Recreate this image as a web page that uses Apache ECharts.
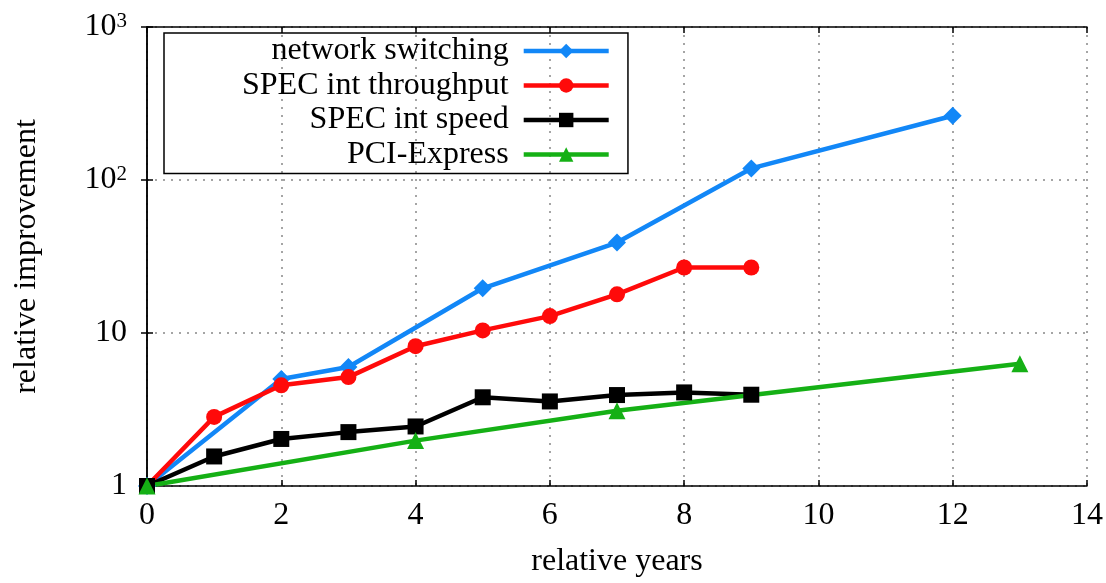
<!DOCTYPE html>
<html>
<head>
<meta charset="utf-8">
<script src="https://cdn.jsdelivr.net/npm/echarts@6/dist/echarts.min.js"></script>
<style>html,body{margin:0;padding:0;background:#fff}#c{width:1106px;height:583px}</style>
</head>
<body>
<div id="c"></div>
<script>
var seriesNames = ['network switching', 'SPEC int throughput', 'SPEC int speed', 'PCI-Express'];
var netX = [0, 2, 3, 5, 7, 9, 12];
var netY = [1, 5.0, 6.0, 19.6, 39, 119, 263];
var thrX = [0, 1, 2, 3, 4, 5, 6, 7, 8, 9];
var thrY = [1, 2.83, 4.55, 5.15, 8.2, 10.4, 12.9, 17.9, 26.8, 26.8];
var spdX = [0, 1, 2, 3, 4, 5, 6, 7, 8, 9];
var spdY = [1, 1.56, 2.03, 2.25, 2.45, 3.8, 3.57, 3.93, 4.09, 3.95];
var pciX = [0, 4, 7, 13];
var pciY = [1, 1.98, 3.1, 6.3];
var xTicks = [0, 2, 4, 6, 8, 10, 12, 14];
var yTicks = [1, 10, 100, 1000];

function pairs(xs, ys) { return xs.map(function (x, i) { return [x, ys[i]]; }); }

var FONT = 'Liberation Serif';
var chart = echarts.init(document.getElementById('c'));
function mkSeries(name, data, color, symbol, size) {
  return {
    name: name, type: 'line', data: data, clip: false,
    symbol: symbol, symbolSize: size, showSymbol: true,
    lineStyle: { color: color, width: 4.5 },
    itemStyle: { color: color },
    emphasis: { disabled: true },
    animation: false
  };
}
var axisLineStyle = { show: true, lineStyle: { color: '#000', width: 1.5 } };
var tickStyle = { show: true, inside: true, length: 6, lineStyle: { color: '#000', width: 1.5 } };
var option = {
  animation: false,
  textStyle: { fontFamily: FONT },
  grid: { left: 147, right: 18, top: 27, bottom: 86 },
  legend: {
    orient: 'vertical', left: 164, top: 33, align: 'right',
    itemWidth: 85, itemHeight: 18, itemGap: 2.5,
    padding: [2, 17, 3, 78],
    borderColor: '#000', borderWidth: 1.5,
    lineStyle: { width: 4.5 },
    textStyle: { fontFamily: FONT, fontSize: 32, color: '#000', lineHeight: 32, padding: [0, 10, 0, 0] },
    data: seriesNames
  },
  xAxis: [{
    type: 'value', min: xTicks[0], max: xTicks[xTicks.length - 1], interval: 2,
    name: 'relative years', nameLocation: 'middle', nameGap: 60,
    nameTextStyle: { fontFamily: FONT, fontSize: 32, color: '#000' },
    axisLine: axisLineStyle, axisTick: tickStyle,
    axisLabel: { fontFamily: FONT, fontSize: 32, color: '#000', margin: 14 },
    splitLine: { show: true, lineStyle: { color: '#888', type: [2, 6], width: 1.5 } }
  }, {
    type: 'value', position: 'top', min: xTicks[0], max: xTicks[xTicks.length - 1], interval: 2,
    axisLine: axisLineStyle, axisTick: tickStyle,
    axisLabel: { show: false }, splitLine: { show: false }
  }],
  yAxis: [{
    type: 'log', logBase: 10, min: yTicks[0], max: yTicks[yTicks.length - 1],
    name: 'relative improvement', nameLocation: 'middle', nameGap: 104, nameRotate: 90,
    nameTextStyle: { fontFamily: FONT, fontSize: 32, color: '#000' },
    axisLine: axisLineStyle, axisTick: tickStyle,
    axisLabel: {
      fontFamily: FONT, fontSize: 32, color: '#000', margin: 20,
      formatter: function (v) {
        if (v >= 100) return '10{sup|' + Math.round(Math.log10(v)) + '}';
        return String(Math.round(v));
      },
      rich: { sup: { fontFamily: FONT, fontSize: 21, color: '#000', verticalAlign: 'top', lineHeight: 32, padding: [0, 0, 14, 0] } }
    },
    splitLine: { show: true, lineStyle: { color: '#888', type: [2, 6], width: 1.5 } }
  }, {
    type: 'log', logBase: 10, position: 'right', min: yTicks[0], max: yTicks[yTicks.length - 1],
    axisLine: axisLineStyle, axisTick: tickStyle,
    axisLabel: { show: false }, splitLine: { show: false }
  }],
  series: [
    mkSeries(seriesNames[0], pairs(netX, netY), '#1287f7', 'diamond', 18),
    mkSeries(seriesNames[1], pairs(thrX, thrY), '#ff0a0a', 'circle', 16),
    mkSeries(seriesNames[2], pairs(spdX, spdY), '#000000', 'rect', 16),
    mkSeries(seriesNames[3], pairs(pciX, pciY), '#15b015', 'triangle', 17)
  ]
};
chart.setOption(option);
</script>
</body>
</html>
